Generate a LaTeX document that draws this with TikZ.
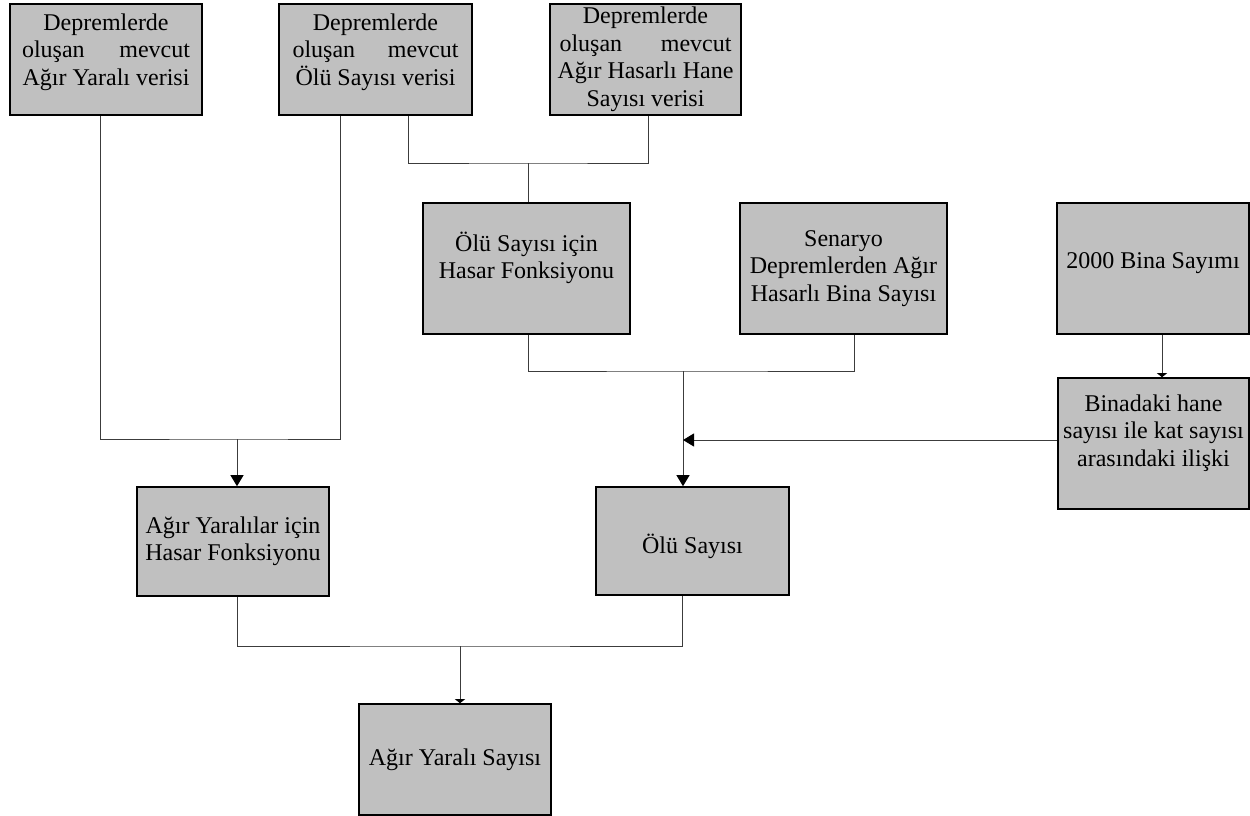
\documentclass[tikz,border=0pt]{standalone}
\usepackage{fontspec}
\setmainfont{Liberation Serif}
\usetikzlibrary{arrows.meta}
\definecolor{boxgray}{RGB}{192,192,192}
\definecolor{linegray}{RGB}{60,60,60}
\newcommand\spreadln[3]{\hbox to #1{#2\hfill #3}}
\begin{document}
\begin{tikzpicture}[x=1pt,y=-1pt,
  box/.style={draw=black, line width=1.6pt, fill=boxgray, rectangle, inner sep=0pt,
    align=center, font=\fontsize{24}{27.5}\selectfont},
  link/.style={draw=linegray, line width=1pt},
  arr/.style={link, -{Triangle[length=11pt,width=13pt,color=black]}},
  smallarr/.style={link, -{Triangle[length=4pt,width=10pt,color=black]}}]
\useasboundingbox (0,0) rectangle (1250,816);

\node[box, minimum width=192pt, minimum height=111pt, text depth=20pt] (b1) at (106,59.5)
  {Depremlerde\\\spreadln{168pt}{oluşan}{mevcut}\\Ağır Yaralı verisi};
\node[box, minimum width=193pt, minimum height=111pt, text depth=20pt] (b2) at (375.5,59.5)
  {Depremlerde\\\spreadln{166pt}{oluşan}{mevcut}\\Ölü Sayısı verisi};
\node[box, minimum width=191pt, minimum height=111pt] (b3) at (645.5,59.5)
  {Depremlerde\\\spreadln{172pt}{oluşan}{mevcut}\\Ağır Hasarlı Hane\\Sayısı verisi};
\node[box, minimum width=207pt, minimum height=131pt, text depth=26pt] (b4) at (526.5,268.5)
  {Ölü Sayısı için\\Hasar Fonksiyonu};
\node[box, minimum width=207pt, minimum height=131pt] (b5) at (843.5,268.5)
  {Senaryo\\Depremlerden Ağır\\Hasarlı Bina Sayısı};
\node[box, minimum width=192pt, minimum height=131pt, text depth=16pt] (b6) at (1153,268.5)
  {2000 Bina Sayımı};
\node[box, minimum width=191pt, minimum height=131pt, text depth=26pt] (b7) at (1153.5,443.5)
  {Binadaki hane\\sayısı ile kat sayısı\\arasındaki ilişki};
\node[box, minimum width=192pt, minimum height=109pt] (b8) at (233,541.5)
  {Ağır Yaralılar için\\Hasar Fonksiyonu};
\node[box, minimum width=193pt, minimum height=108pt, text height=30pt] (b9) at (692.5,541)
  {Ölü Sayısı};
\node[box, minimum width=192pt, minimum height=111pt] (b10) at (455,759.5)
  {Ağır Yaralı Sayısı};

\coordinate (jA) at (237,439);
\coordinate (jB) at (528,163);
\coordinate (jC) at (683,371);
\coordinate (jD) at (683,440);
\coordinate (jE) at (460,646);

\draw[link] ([xshift=-6pt]b1.south) |- (jA) -| ([xshift=-35.5pt]b2.south);
\draw[arr] (jA) -- (jA |- b8.north);

\draw[link] ([xshift=32.5pt]b2.south) |- (jB) -| ([xshift=2.5pt]b3.south);
\draw[link] (jB) -- (jB |- b4.north);

\draw[link] ([xshift=1.5pt]b4.south) |- (jC) -| ([xshift=10.5pt]b5.south);
\draw[arr] (jC) -- (jC |- b9.north);

\draw[smallarr] ([xshift=9pt]b6.south) -- ([xshift=9pt]b6.south |- b7.north);
\draw[arr] (b7.west |- jD) -- (jD);

\draw[link] ([xshift=4pt]b8.south) |- (jE) -| ([xshift=-10pt]b9.south);
\draw[smallarr] (jE) -- (jE |- b10.north);
\end{tikzpicture}
\end{document}
